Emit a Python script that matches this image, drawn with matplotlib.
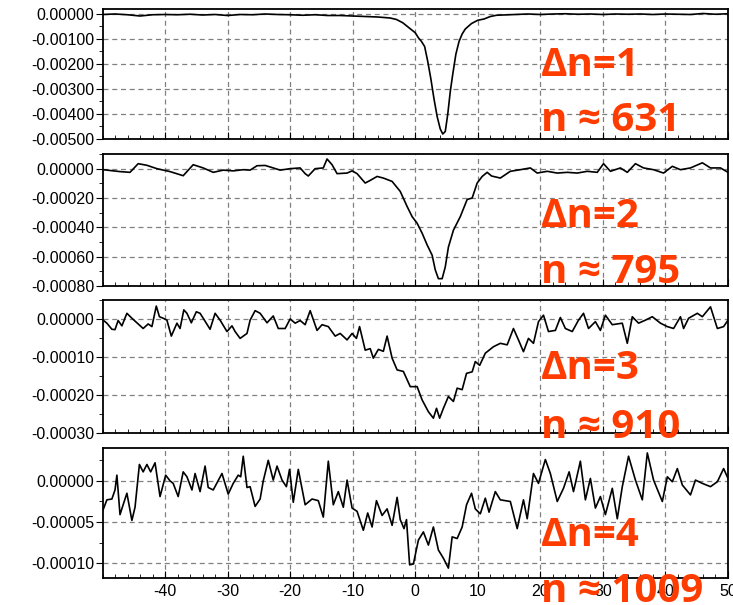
import numpy as np
import matplotlib
matplotlib.use('Agg')
import matplotlib.pyplot as plt
from matplotlib.ticker import MultipleLocator, FormatStrFormatter

plt.rcParams['font.family'] = ['Liberation Sans', 'DejaVu Sans']
plt.rcParams['axes.unicode_minus'] = False

# (offset, signal) pairs
trace1 = [(-50, -0.02), (-48, 0.0), (-46, -0.03), (-44, -0.08), (-42, -0.03), (-40, -0.02),
          (-38, -0.03), (-36, -0.01), (-34, -0.04), (-32, -0.02), (-30, -0.06), (-28, -0.02),
          (-26, -0.03), (-24, 0.0), (-22, -0.02), (-20, -0.03), (-18, -0.05), (-16, -0.03),
          (-14, -0.06), (-12, -0.06), (-10, -0.08), (-8, -0.1), (-6, -0.12), (-4, -0.16),
          (-3, -0.22), (-2, -0.35), (-1, -0.55), (0, -0.75), (0.5, -0.95), (1, -1.1),
          (1.5, -1.3), (2, -1.9), (2.5, -2.6), (3, -3.4), (3.5, -4.1), (4, -4.6), (4.4, -4.8),
          (4.8, -4.7), (5.2, -4.0), (5.6, -3.1), (6, -2.4), (6.5, -1.6), (7, -1.1), (7.5, -0.8),
          (8, -0.6), (9, -0.38), (10, -0.25), (11, -0.2), (12, -0.1), (13, -0.05), (14, -0.04),
          (16, -0.02), (18, 0.0), (20, -0.02), (22, 0.0), (24, 0.01), (26, -0.01), (28, 0.0),
          (30, -0.02), (32, 0.0), (34, -0.01), (36, 0.0), (38, -0.02), (40, 0.0), (42, -0.01),
          (44, -0.02), (46, 0.02), (48, -0.01), (50, 0.01)]  # x1e-3

trace2 = [(-49.9, -0.07), (-47.2, -0.2), (-45.6, -0.25), (-44.3, 0.34), (-42.9, 0.23),
          (-41.3, 0.0), (-39.2, -0.2), (-37.1, -0.48), (-35.5, 0.27), (-33.9, 0.05),
          (-32.3, -0.25), (-30.7, -0.1), (-29.1, -0.15), (-27.5, -0.07), (-26.4, -0.1),
          (-25.3, 0.2), (-24, 0.22), (-22.7, 0.05), (-21.6, -0.1), (-20, 0.0), (-18.4, 0.05),
          (-17.6, -0.34), (-17.1, -0.5), (-16, 0.0), (-14.7, 0.05), (-14.1, 0.66), (-13.3, 0.27),
          (-12.5, -0.34), (-10.9, -0.3), (-10.1, -0.15), (-9.3, -0.34), (-8, -0.98), (-7.2, -0.8),
          (-6.1, -0.53), (-5.1, -0.64), (-3.7, -0.87), (-2.4, -1.55), (-1.3, -2.58), (-0.5, -3.27),
          (0.3, -3.72), (1.1, -4.4), (1.9, -5.2), (2.7, -5.9), (3.2, -6.9), (3.7, -7.5),
          (4.3, -7.5), (4.8, -6.7), (5.3, -5.35), (6.1, -4.2), (7.2, -3.27), (8.3, -2.1),
          (9.1, -2.0), (9.9, -0.98), (10.7, -0.53), (11.5, -0.25), (12.2, -0.5), (13.6, -0.64),
          (15.2, -0.18), (16.8, -0.07), (18.4, 0.05), (19.5, -0.3), (21.1, -0.18), (22.7, -0.3),
          (24.3, -0.25), (25.9, -0.3), (27.5, -0.18), (29.1, -0.25), (30.1, 0.34), (31.2, -0.18),
          (32.8, 0.05), (33.9, -0.25), (35.2, 0.34), (36.5, 0.05), (38.1, -0.07), (39.7, -0.3),
          (41.1, 0.16), (42.4, -0.07), (44, 0.05), (45.9, 0.4), (47.2, 0.05), (48.8, 0.05),
          (50, -0.25)]  # x1e-4

trace3 = [(-49.9, -0.3), (-49.3, -1.1), (-48.5, -2.7), (-48, -2.8), (-47.5, -0.4), (-46.9, -1.8),
          (-46.1, 1.5), (-45.3, 0.2), (-44.5, -1.0), (-43.5, -2.5), (-42.7, -1.3), (-42.1, -2.0),
          (-41.4, 3.4), (-40.9, 0.6), (-40.3, 0.2), (-39.7, -0.3), (-39, -4.5), (-38.1, -1.1),
          (-37.6, -2.5), (-37, 2.4), (-36.5, 1.5), (-35.8, -1.0), (-35, 1.9), (-34.4, 1.5),
          (-33.9, 0.2), (-32.8, -2.7), (-32, 1.5), (-31.2, -0.3), (-30.1, -3.3), (-29.3, -1.8),
          (-28.8, -3.3), (-28, -5.1), (-26.9, -3.8), (-26.4, -0.3), (-25.6, 2.2), (-24.8, 1.5),
          (-23.7, -1.0), (-22.7, 0.8), (-21.9, -2.5), (-20.8, -2.5), (-20, 0.0), (-19.2, -1.1),
          (-18.4, -0.4), (-17.6, -1.5), (-16.8, 2.2), (-15.7, -3.0), (-14.9, -1.5), (-13.9, -2.0),
          (-12.8, -4.5), (-12, -3.8), (-10.9, -5.5), (-10.1, -3.8), (-9.4, -5.1), (-8.9, -2.0),
          (-8, -8.2), (-7.2, -7.8), (-6.7, -10.3), (-5.9, -8.0), (-5.1, -8.5), (-4.5, -4.5),
          (-3.7, -10.3), (-2.9, -13.4), (-1.9, -13.8), (-0.8, -17.8), (0.3, -17.8), (1.1, -21.3),
          (2.1, -24.4), (2.9, -26.1), (3.4, -23.5), (3.9, -26.1), (4.5, -23.5), (5.3, -20.4),
          (6.1, -21.7), (6.7, -18.2), (7.5, -18.6), (8.2, -14.3), (9.1, -13.9), (9.6, -11.2),
          (10.3, -12.2), (11.2, -9.0), (12.5, -7.3), (13.6, -6.4), (14.7, -6.8), (15.7, -2.5),
          (16.5, -5.5), (17.3, -8.6), (18.1, -5.1), (18.9, -6.4), (19.7, -0.7), (20.5, 1.0),
          (21.3, -3.3), (22.4, -3.0), (23.2, 0.4), (24, -2.5), (25.1, -3.3), (26.1, -0.3),
          (26.9, 1.5), (27.7, -2.5), (28.8, -0.7), (29.6, -3.0), (30.4, 1.0), (31.5, -1.5),
          (33.1, -1.1), (33.9, -6.4), (34.7, 0.6), (35.7, -1.1), (36.8, -0.3), (37.9, 0.6),
          (39.2, -1.1), (40.3, -2.0), (41.3, -2.5), (42.4, 0.6), (42.9, -2.5), (43.7, 0.2),
          (45.1, 1.5), (45.9, 0.6), (47.2, 3.2), (48.3, -2.5), (49.3, -2.0), (50, -0.3)]  # x1e-5

trace4 = [(-49.9, -3.5), (-49.3, -2.3), (-48.5, -2.2), (-48, -1.1), (-47.7, 0.7), (-47.2, -4.1),
          (-46.7, -2.9), (-46.1, -1.5), (-45.3, -4.8), (-44.8, -3.2), (-44.1, 2.0), (-43.5, 1.1),
          (-42.9, 2.0), (-42.3, 1.1), (-41.6, 2.2), (-40.8, -1.9), (-39.9, 0.7), (-39.2, 0.0),
          (-38.7, -0.3), (-37.9, -1.9), (-37.1, 1.1), (-36.5, 0.5), (-35.7, -1.1), (-35.2, 0.9),
          (-34.4, -1.3), (-33.6, 1.8), (-33.1, -0.8), (-32.3, -1.1), (-30.9, 0.9), (-29.9, -1.6),
          (-29.1, -0.3), (-28.3, 0.7), (-27.9, 0.5), (-27.5, 3.0), (-26.9, -0.8), (-26.4, -0.7),
          (-25.6, -3.1), (-24.8, -2.2), (-24.3, 0.0), (-23.5, 2.5), (-22.7, 0.1), (-22.1, 1.8),
          (-21.3, 0.1), (-20.6, -0.7), (-20.1, 1.4), (-19.5, -2.6), (-18.7, 1.4), (-17.6, -2.9),
          (-16.5, -2.2), (-15.5, -2.4), (-14.7, -4.4), (-13.9, 2.4), (-13.1, -2.9), (-12.3, -1.3),
          (-11.5, -3.2), (-10.9, 0.1), (-10.1, -3.3), (-9.3, -3.7), (-8.3, -6.0), (-7.6, -3.9),
          (-6.9, -5.6), (-6.2, -2.4), (-5.3, -4.2), (-4.5, -3.4), (-3.7, -5.4), (-2.9, -2.0),
          (-2.4, -4.7), (-1.8, -5.8), (-1.4, -4.7), (-0.9, -10.2), (-0.3, -10.1), (0.5, -7.2),
          (1.3, -6.2), (2.1, -7.8), (2.9, -5.6), (3.7, -8.4), (4.5, -9.4), (5.3, -10.6),
          (5.9, -6.8), (6.7, -7.0), (7.5, -5.6), (8.2, -2.9), (9.0, -1.5), (9.6, -3.4),
          (10.4, -4.0), (11.2, -2.1), (11.8, -3.8), (12.8, -1.3), (13.6, -2.3), (15.2, -2.5),
          (16.3, -5.8), (17.3, -2.3), (17.9, -4.6), (18.9, 0.9), (19.7, -0.3), (20.8, 2.6),
          (21.6, 0.9), (22.7, -2.5), (23.7, -0.9), (24.6, 1.1), (25.3, -1.3), (26.4, 2.4),
          (27.2, -2.3), (28.0, 0.3), (28.8, -3.3), (29.6, -1.9), (30.4, -4.1), (31.5, -0.9),
          (32.3, -4.6), (33.1, -0.7), (34.1, 3.0), (35.2, 0.1), (36.3, -2.3), (37.1, 3.4),
          (38.1, 0.1), (39.5, -2.5), (40.3, 0.5), (41.1, -0.1), (41.9, 1.5), (42.7, -0.5),
          (44.0, -1.7), (44.8, 0.1), (45.9, -0.3), (47.2, -0.7), (48.3, -0.1), (49.3, 1.5),
          (50.0, 0.3)]  # x1e-5

traces = [trace1, trace2, trace3, trace4]
scales = [1e-3, 1e-4, 1e-5, 1e-5]
ylims = [(-0.005, 0.0002), (-0.0008, 0.0001), (-0.0003, 0.00005), (-0.000118, 0.00004)]
ysteps = [0.001, 0.0002, 0.0001, 0.00005]
xticks = [-40, -30, -20, -10, 0, 10, 20, 30, 40, 50]
labels = [('\u0394n=1', 'n \u2248 631'), ('\u0394n=2', 'n \u2248 795'),
          ('\u0394n=3', 'n \u2248 910'), ('\u0394n=4', 'n \u2248 1009')]

W, H = 733, 605
# panel boxes in pixels: (top, bottom)
boxes = [(9, 139), (154, 286), (300, 433), (448, 578)]
label_y = [(76, 131), (227, 283), (379, 438), (546, 602)]
red = '#FF3C00'

fig = plt.figure(figsize=(W / 100, H / 100), dpi=100)
for i, (tr, sc) in enumerate(zip(traces, scales)):
    top, bot = boxes[i]
    ax = fig.add_axes([102.5 / W, (H - bot) / H, 625.5 / W, (bot - top) / H])
    d = np.array(tr)
    ax.plot(d[:, 0], d[:, 1] * sc, color='black', lw=1.2)
    ax.set_xlim(-50, 50)
    ax.set_ylim(*ylims[i])
    ax.set_xticks(xticks)
    ax.xaxis.set_minor_locator(MultipleLocator(2))
    ax.yaxis.set_major_locator(MultipleLocator(ysteps[i]))
    ax.yaxis.set_minor_locator(MultipleLocator(ysteps[i] / 2))
    ax.yaxis.set_major_formatter(FormatStrFormatter('%.5f'))
    ax.grid(True, which='major', color='#808080', ls=(0, (4, 3)), lw=0.9)
    ax.tick_params(axis='y', which='major', direction='out', length=5, labelsize=11.5,
                   colors='black', pad=1)
    ax.tick_params(axis='y', which='minor', direction='out', length=3)
    ax.tick_params(axis='x', which='major', direction='in', length=5, labelsize=11.5, pad=4)
    ax.tick_params(axis='x', which='minor', direction='in', length=3)
    if i < 3:
        ax.tick_params(axis='x', which='both', labelbottom=False)
    for sp in ax.spines.values():
        sp.set_linewidth(1.3)
    for j, txt in enumerate(labels[i]):
        fig.text(541 / W, (H - label_y[i][j]) / H, txt, color=red, fontsize=29,
                 fontweight='bold', family=['Open Sans', 'DejaVu Sans'], va='baseline')

fig.savefig('out.png', dpi=100)
